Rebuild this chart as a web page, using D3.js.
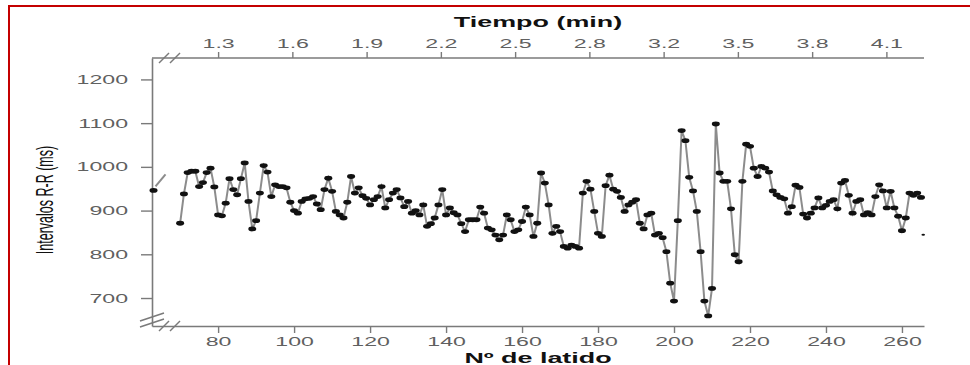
<!DOCTYPE html>
<html>
<head>
<meta charset="utf-8">
<script src="https://cdn.jsdelivr.net/npm/d3@7"></script>
<style>
  body { margin: 0; background: #fff; }
  svg { display: block; }
</style>
</head>
<body>
<script>
const width = 970
const height = 365
// the source figure is stretched sideways, so text is widened the same way
const stretch = 1.85

// R-R interval (ms) for each beat, starting at firstBeat
const firstBeat = 70
const rrValues = [
  871, 938, 987, 990, 990, 955, 964, 987, 997, 954,
  890, 888, 917, 973, 948, 936, 973, 1009, 921, 858,
  877, 940, 1003, 988, 932, 959, 955, 955, 952, 919,
  900, 894, 921, 927, 928, 932, 915, 902, 948, 974,
  944, 898, 890, 883, 919, 978, 940, 952, 934, 928,
  913, 925, 932, 955, 906, 925, 940, 948, 929, 909,
  921, 894, 900, 890, 913, 864, 870, 883, 913, 948,
  890, 906, 895, 890, 870, 852, 879, 879, 879, 908,
  894, 860, 856, 844, 833, 844, 890, 879, 852, 856,
  875, 908, 890, 841, 871, 986, 963, 913, 848, 864,
  852, 818, 814, 821, 818, 814, 940, 967, 949, 898,
  848, 841, 957, 981, 949, 944, 930, 898, 913, 919,
  925, 871, 858, 890, 894, 844, 848, 838, 806, 734,
  693, 877, 1083, 1060, 976, 945, 898, 806, 693, 659,
  722, 1098, 986, 967, 967, 904, 799, 783, 967, 1052,
  1047, 997, 978, 1001, 997, 988, 945, 936, 930, 927,
  894, 909, 958, 953, 892, 883, 894, 906, 929, 906,
  912, 921, 925, 904, 963, 969, 935, 894, 921, 925,
  890, 895, 890, 932, 959, 945, 906, 944, 906, 887,
  854, 883, 940, 935, 940, 930
]
// lone beat left of the break, and the clipped tail at the right edge
const strayBeat = 63
const strayValue = 946
const tailBeat = 265.6
const tailValue = 845

const beatTicks = [80, 100, 120, 140, 160, 180, 200, 220, 240, 260]
const rrTicks = [700, 800, 900, 1000, 1100, 1200]
const timeLabels = ['1.3', '1.6', '1.9', '2.2', '2.5', '2.8', '3.2', '3.5', '3.8', '4.1']
const timeFirstBeat = 80
const timeLastBeat = 255.9

const beats = rrValues.map((v, i) => ({ beat: firstBeat + i, rr: v }))

const x = d3.scaleLinear().domain([62.6, 265.8]).range([152, 924])
const y = d3.scaleLinear().domain([636, 1249]).range([326, 58])
const xTime = d3.scalePoint().domain(timeLabels).range([x(timeFirstBeat), x(timeLastBeat)])

const svg = d3.select('body').append('svg')
  .attr('width', width)
  .attr('height', height)

const axisColor = '#7a7a7a'
const labelColor = '#606060'

// red frame of the source figure
svg.append('path')
  .attr('d', `M9,${height} V6 H${width}`)
  .attr('fill', 'none')
  .attr('stroke', '#c40000')
  .attr('stroke-width', 2)

const styleAxis = (g) => {
  g.select('.domain').attr('stroke', axisColor).attr('stroke-width', 1.6)
  g.selectAll('.tick line').attr('stroke', axisColor).attr('stroke-width', 1.4)
  g.selectAll('.tick text')
    .attr('fill', labelColor)
    .attr('font-family', 'Liberation Sans, Arial, sans-serif')
    .attr('font-size', 12.5)
}

const yAxis = svg.append('g')
  .attr('transform', `translate(${x.range()[0]},0)`)
  .call(d3.axisLeft(y).tickValues(rrTicks).tickFormat(d3.format('d')).tickSize(11).tickSizeOuter(0))
  .call(styleAxis)
yAxis.selectAll('.tick text')
  .attr('x', 0)
  .attr('transform', `translate(-24,0) scale(${stretch},1)`)

const xAxis = svg.append('g')
  .attr('transform', `translate(0,${y.range()[0]})`)
  .call(d3.axisBottom(x).tickValues(beatTicks).tickSize(7).tickPadding(4).tickSizeOuter(0))
  .call(styleAxis)
xAxis.selectAll('.tick text').attr('transform', `scale(${stretch},1)`)

const topAxis = svg.append('g')
  .attr('transform', `translate(0,${y.range()[1]})`)
  .call(d3.axisTop(xTime).tickSize(6).tickPadding(4).tickSizeOuter(0))
  .call(styleAxis)
topAxis.select('.domain').attr('d', `M${x.range()[0]},0H${x.range()[1]}`)
topAxis.selectAll('.tick text').attr('transform', `scale(${stretch},1)`)

// axis break marks
const breaks = svg.append('g').attr('stroke', axisColor).attr('stroke-width', 1.4).attr('fill', 'none')
for (const dx of [12, 23]) {
  breaks.append('line')
    .attr('x1', x.range()[0] + dx - 5).attr('y1', y.range()[1] + 5)
    .attr('x2', x.range()[0] + dx + 5).attr('y2', y.range()[1] - 5)
  breaks.append('line')
    .attr('x1', x.range()[0] + dx - 5).attr('y1', y.range()[0] + 5)
    .attr('x2', x.range()[0] + dx + 5).attr('y2', y.range()[0] - 5)
}
for (const dy of [-9, -3]) {
  breaks.append('line')
    .attr('x1', x.range()[0] - 12).attr('y1', y.range()[0] + dy + 4)
    .attr('x2', x.range()[0] + 12).attr('y2', y.range()[0] + dy - 4)
}

// series
const line = d3.line().x((d) => x(d.beat)).y((d) => y(d.rr))
svg.append('path')
  .datum(beats)
  .attr('d', line)
  .attr('fill', 'none')
  .attr('stroke', '#8c8c8c')
  .attr('stroke-width', 2)

svg.append('line')
  .attr('x1', x(strayBeat) + 2).attr('y1', y(strayValue) - 4)
  .attr('x2', x(strayBeat) + 12).attr('y2', y(strayValue) - 16)
  .attr('stroke', '#8c8c8c')
  .attr('stroke-width', 2)

svg.append('g')
  .attr('fill', '#111')
  .selectAll('ellipse')
  .data([{ beat: strayBeat, rr: strayValue }, ...beats])
  .join('ellipse')
  .attr('cx', (d) => x(d.beat))
  .attr('cy', (d) => y(d.rr))
  .attr('rx', 4)
  .attr('ry', 2.4)

svg.append('ellipse')
  .attr('cx', x(tailBeat))
  .attr('cy', y(tailValue))
  .attr('rx', 1.8)
  .attr('ry', 1)
  .attr('fill', '#111')

// titles
svg.append('text')
  .attr('transform', `translate(${(x.range()[0] + x.range()[1]) / 2},27) scale(${stretch * 0.97},1)`)
  .attr('text-anchor', 'middle')
  .attr('font-family', 'Liberation Sans, Arial, sans-serif')
  .attr('font-weight', 'bold')
  .attr('font-size', 15)
  .attr('fill', '#111')
  .text('Tiempo (min)')

svg.append('text')
  .attr('transform', `translate(${(x.range()[0] + x.range()[1]) / 2},363) scale(${stretch * 0.97},1)`)
  .attr('text-anchor', 'middle')
  .attr('font-family', 'Liberation Sans, Arial, sans-serif')
  .attr('font-weight', 'bold')
  .attr('font-size', 15)
  .attr('fill', '#111')
  .text('Nº de latido')

svg.append('text')
  .attr('transform', `translate(45,200) scale(${stretch},1) rotate(-90)`)
  .attr('text-anchor', 'middle')
  .attr('dy', '0.35em')
  .attr('font-family', 'Liberation Sans, Arial, sans-serif')
  .attr('font-size', 12.5)
  .attr('fill', '#111')
  .text('Intervalos R-R (ms)')
</script>
</body>
</html>
